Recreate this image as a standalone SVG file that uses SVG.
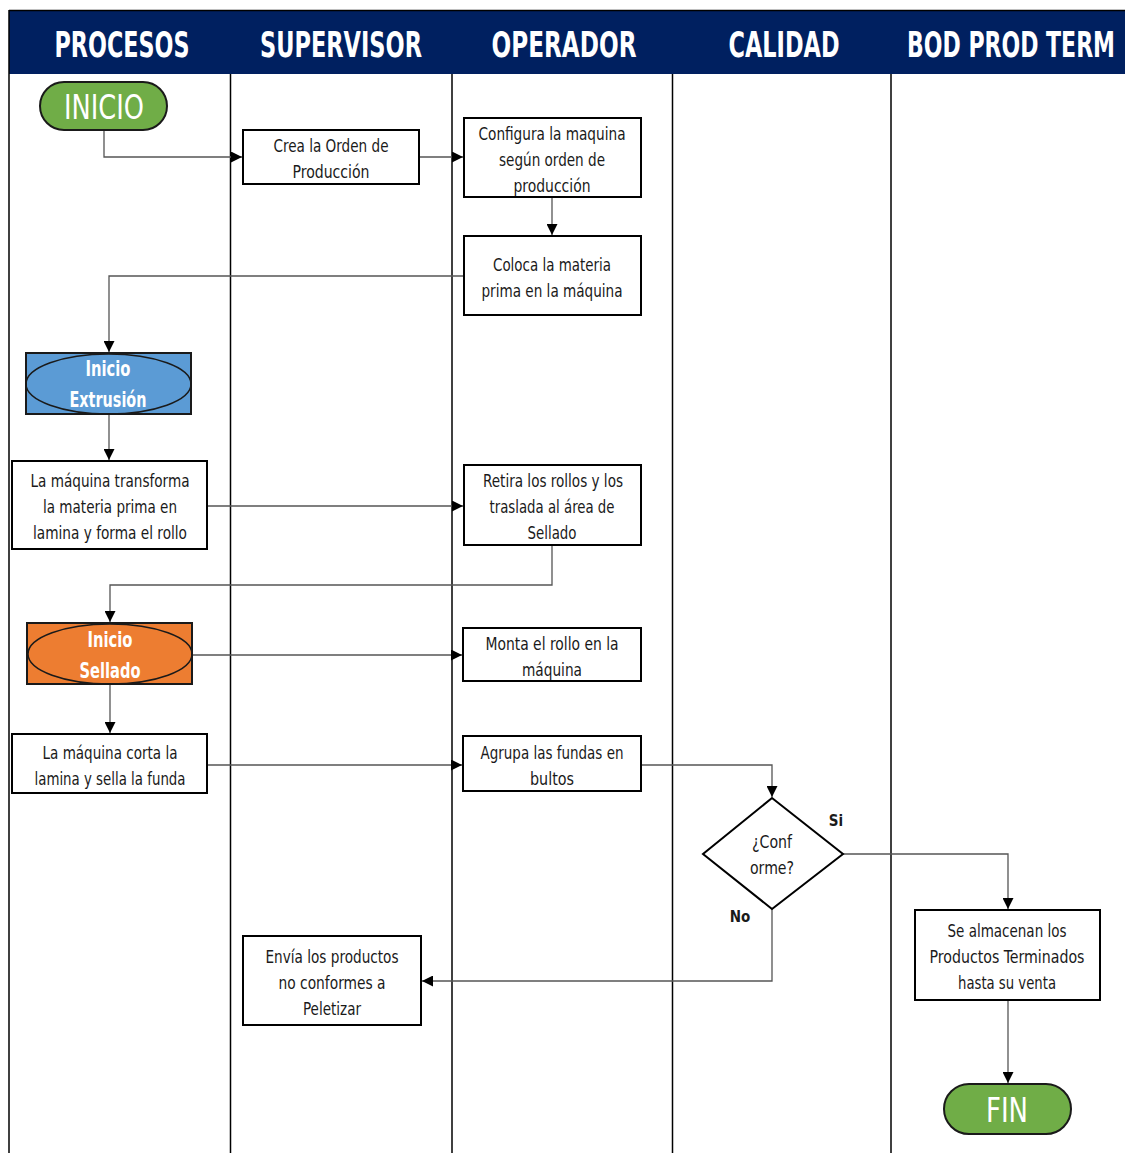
<svg xmlns="http://www.w3.org/2000/svg" width="1125" height="1153" viewBox="0 0 1125 1153">
<style>
.lane{stroke:#000;stroke-width:1.5;fill:none}
.hdr{font-family:"DejaVu Sans Condensed","Liberation Sans",sans-serif;font-weight:bold;font-size:36px;fill:#fff;text-anchor:middle}
.box{fill:#fff;stroke:#000;stroke-width:2}
.t{font-family:"DejaVu Sans Condensed","Liberation Sans",sans-serif;font-size:18px;fill:#1a1a1a;text-anchor:middle}
.w{font-family:"DejaVu Sans Condensed","Liberation Sans",sans-serif;fill:#fff;text-anchor:middle}
.b{font-family:"DejaVu Sans Condensed","Liberation Sans",sans-serif;font-weight:bold;font-size:15px;fill:#1a1a1a;text-anchor:middle}
.c{stroke:#555;stroke-width:1.3;fill:none;marker-end:url(#ah)}
</style>
<defs>
<marker id="ah" viewBox="0 0 10 10" refX="10" refY="5" markerWidth="11" markerHeight="11" markerUnits="userSpaceOnUse" orient="auto">
<path d="M0,0 L10,5 L0,10 z" fill="#000"/>
</marker>
</defs>
<rect width="1125" height="1153" fill="#fff"/>
<g id="header">
<rect x="9" y="11" width="1116" height="63" fill="#002060"/>
<line x1="9" y1="10.5" x2="1125" y2="10.5" stroke="#000" stroke-width="1.5"/>
<text class="hdr" x="122" y="57" textLength="135" lengthAdjust="spacingAndGlyphs">PROCESOS</text>
<text class="hdr" x="341" y="57" textLength="162" lengthAdjust="spacingAndGlyphs">SUPERVISOR</text>
<text class="hdr" x="564" y="57" textLength="145" lengthAdjust="spacingAndGlyphs">OPERADOR</text>
<text class="hdr" x="784" y="57" textLength="111" lengthAdjust="spacingAndGlyphs">CALIDAD</text>
<text class="hdr" x="1011" y="57" textLength="208" lengthAdjust="spacingAndGlyphs">BOD PROD TERM</text>
</g>
<g id="lanes">
<line class="lane" x1="9" y1="10" x2="9" y2="1153"/>
<line class="lane" x1="230.5" y1="74" x2="230.5" y2="1153"/>
<line class="lane" x1="452" y1="74" x2="452" y2="1153"/>
<line class="lane" x1="672.5" y1="74" x2="672.5" y2="1153"/>
<line class="lane" x1="891" y1="74" x2="891" y2="1153"/>
</g>
<g id="connectors">
<path class="c" d="M104,130 V157 H242"/>
<path class="c" d="M419,157 H463"/>
<path class="c" d="M552,197 V235"/>
<path class="c" d="M464,276 H109 V352"/>
<path class="c" d="M109,414 V460"/>
<path class="c" d="M207,506 H463"/>
<path class="c" d="M552,545 V585 H110 V622"/>
<path class="c" d="M192,655 H462"/>
<path class="c" d="M110,684 V733"/>
<path class="c" d="M207,765 H462"/>
<path class="c" d="M641,765 H772 V797"/>
<path class="c" d="M843,854 H1008 V909"/>
<path class="c" d="M772,909 V981 H422"/>
<path class="c" d="M1008,1000 V1083"/>
</g>
<g id="inicio">
<rect x="40" y="82" width="127" height="48" rx="24" fill="#70AD47" stroke="#1a1a1a" stroke-width="2"/>
<text class="w" x="104" y="119" font-size="34" textLength="80" lengthAdjust="spacingAndGlyphs">INICIO</text>
</g>
<g id="crea-orden">
<rect class="box" x="243" y="130" width="176" height="54"/>
<text class="t" x="331" y="152" textLength="115" lengthAdjust="spacingAndGlyphs">Crea la Orden de</text>
<text class="t" x="331" y="178" textLength="77" lengthAdjust="spacingAndGlyphs">Producción</text>
</g>
<g id="configura">
<rect class="box" x="464" y="118" width="177" height="79"/>
<text class="t" x="552" y="140" textLength="147" lengthAdjust="spacingAndGlyphs">Configura la maquina</text>
<text class="t" x="552" y="166" textLength="106" lengthAdjust="spacingAndGlyphs">según orden de</text>
<text class="t" x="552" y="192" textLength="77" lengthAdjust="spacingAndGlyphs">producción</text>
</g>
<g id="coloca">
<rect class="box" x="464" y="236" width="177" height="79"/>
<text class="t" x="552" y="271" textLength="118" lengthAdjust="spacingAndGlyphs">Coloca la materia</text>
<text class="t" x="552" y="297" textLength="141" lengthAdjust="spacingAndGlyphs">prima en la máquina</text>
</g>
<g id="inicio-extrusion">
<rect x="26" y="353" width="165" height="61" fill="#5B9BD5" stroke="#1a1a1a" stroke-width="2"/>
<ellipse cx="108.5" cy="384" rx="82.5" ry="30" fill="none" stroke="#1a1a1a" stroke-width="1.5"/>
<text class="w" x="108" y="376" font-size="22" font-weight="bold" textLength="45" lengthAdjust="spacingAndGlyphs">Inicio</text>
<text class="w" x="108" y="407" font-size="22" font-weight="bold" textLength="77" lengthAdjust="spacingAndGlyphs">Extrusión</text>
</g>
<g id="transforma">
<rect class="box" x="12" y="461" width="195" height="88"/>
<text class="t" x="110" y="487" textLength="159" lengthAdjust="spacingAndGlyphs">La máquina transforma</text>
<text class="t" x="110" y="513" textLength="134" lengthAdjust="spacingAndGlyphs">la materia prima en</text>
<text class="t" x="110" y="539" textLength="154" lengthAdjust="spacingAndGlyphs">lamina y forma el rollo</text>
</g>
<g id="retira">
<rect class="box" x="464" y="465" width="177" height="80"/>
<text class="t" x="553" y="487" textLength="140" lengthAdjust="spacingAndGlyphs">Retira los rollos y los</text>
<text class="t" x="552" y="513" textLength="125" lengthAdjust="spacingAndGlyphs">traslada al área de</text>
<text class="t" x="552" y="539" textLength="49" lengthAdjust="spacingAndGlyphs">Sellado</text>
</g>
<g id="inicio-sellado">
<rect x="27" y="623" width="165" height="61" fill="#ED7D31" stroke="#1a1a1a" stroke-width="2"/>
<ellipse cx="110" cy="654" rx="82" ry="30" fill="none" stroke="#1a1a1a" stroke-width="1.5"/>
<text class="w" x="110" y="647" font-size="22" font-weight="bold" textLength="45" lengthAdjust="spacingAndGlyphs">Inicio</text>
<text class="w" x="110" y="678" font-size="22" font-weight="bold" textLength="61" lengthAdjust="spacingAndGlyphs">Sellado</text>
</g>
<g id="monta">
<rect class="box" x="463" y="628" width="178" height="53"/>
<text class="t" x="552" y="650" textLength="133" lengthAdjust="spacingAndGlyphs">Monta el rollo en la</text>
<text class="t" x="552" y="676" textLength="60" lengthAdjust="spacingAndGlyphs">máquina</text>
</g>
<g id="corta">
<rect class="box" x="12" y="734" width="195" height="59"/>
<text class="t" x="110" y="759" textLength="135" lengthAdjust="spacingAndGlyphs">La máquina corta la</text>
<text class="t" x="110" y="785" textLength="151" lengthAdjust="spacingAndGlyphs">lamina y sella la funda</text>
</g>
<g id="agrupa">
<rect class="box" x="463" y="736" width="178" height="55"/>
<text class="t" x="552" y="759" textLength="143" lengthAdjust="spacingAndGlyphs">Agrupa las fundas en</text>
<text class="t" x="552" y="785" textLength="44" lengthAdjust="spacingAndGlyphs">bultos</text>
</g>
<g id="conforme">
<polygon points="772,798 843,854 772,909 703,854" fill="#fff" stroke="#000" stroke-width="2"/>
<text class="t" x="772" y="848" textLength="40" lengthAdjust="spacingAndGlyphs">¿Conf</text>
<text class="t" x="772" y="874" textLength="44" lengthAdjust="spacingAndGlyphs">orme?</text>
<text class="b" x="836" y="826">Si</text>
<text class="b" x="740" y="922">No</text>
</g>
<g id="envia">
<rect class="box" x="243" y="936" width="178" height="89"/>
<text class="t" x="332" y="963" textLength="133" lengthAdjust="spacingAndGlyphs">Envía los productos</text>
<text class="t" x="332" y="989" textLength="107" lengthAdjust="spacingAndGlyphs">no conformes a</text>
<text class="t" x="332" y="1015" textLength="58" lengthAdjust="spacingAndGlyphs">Peletizar</text>
</g>
<g id="almacenan">
<rect class="box" x="915" y="910" width="185" height="90"/>
<text class="t" x="1007" y="937" textLength="119" lengthAdjust="spacingAndGlyphs">Se almacenan los</text>
<text class="t" x="1007" y="963" textLength="155" lengthAdjust="spacingAndGlyphs">Productos Terminados</text>
<text class="t" x="1007" y="989" textLength="98" lengthAdjust="spacingAndGlyphs">hasta su venta</text>
</g>
<g id="fin">
<rect x="944" y="1084" width="127" height="50" rx="25" fill="#70AD47" stroke="#1a1a1a" stroke-width="2"/>
<text class="w" x="1007" y="1122" font-size="34" textLength="42" lengthAdjust="spacingAndGlyphs">FIN</text>
</g>
</svg>
